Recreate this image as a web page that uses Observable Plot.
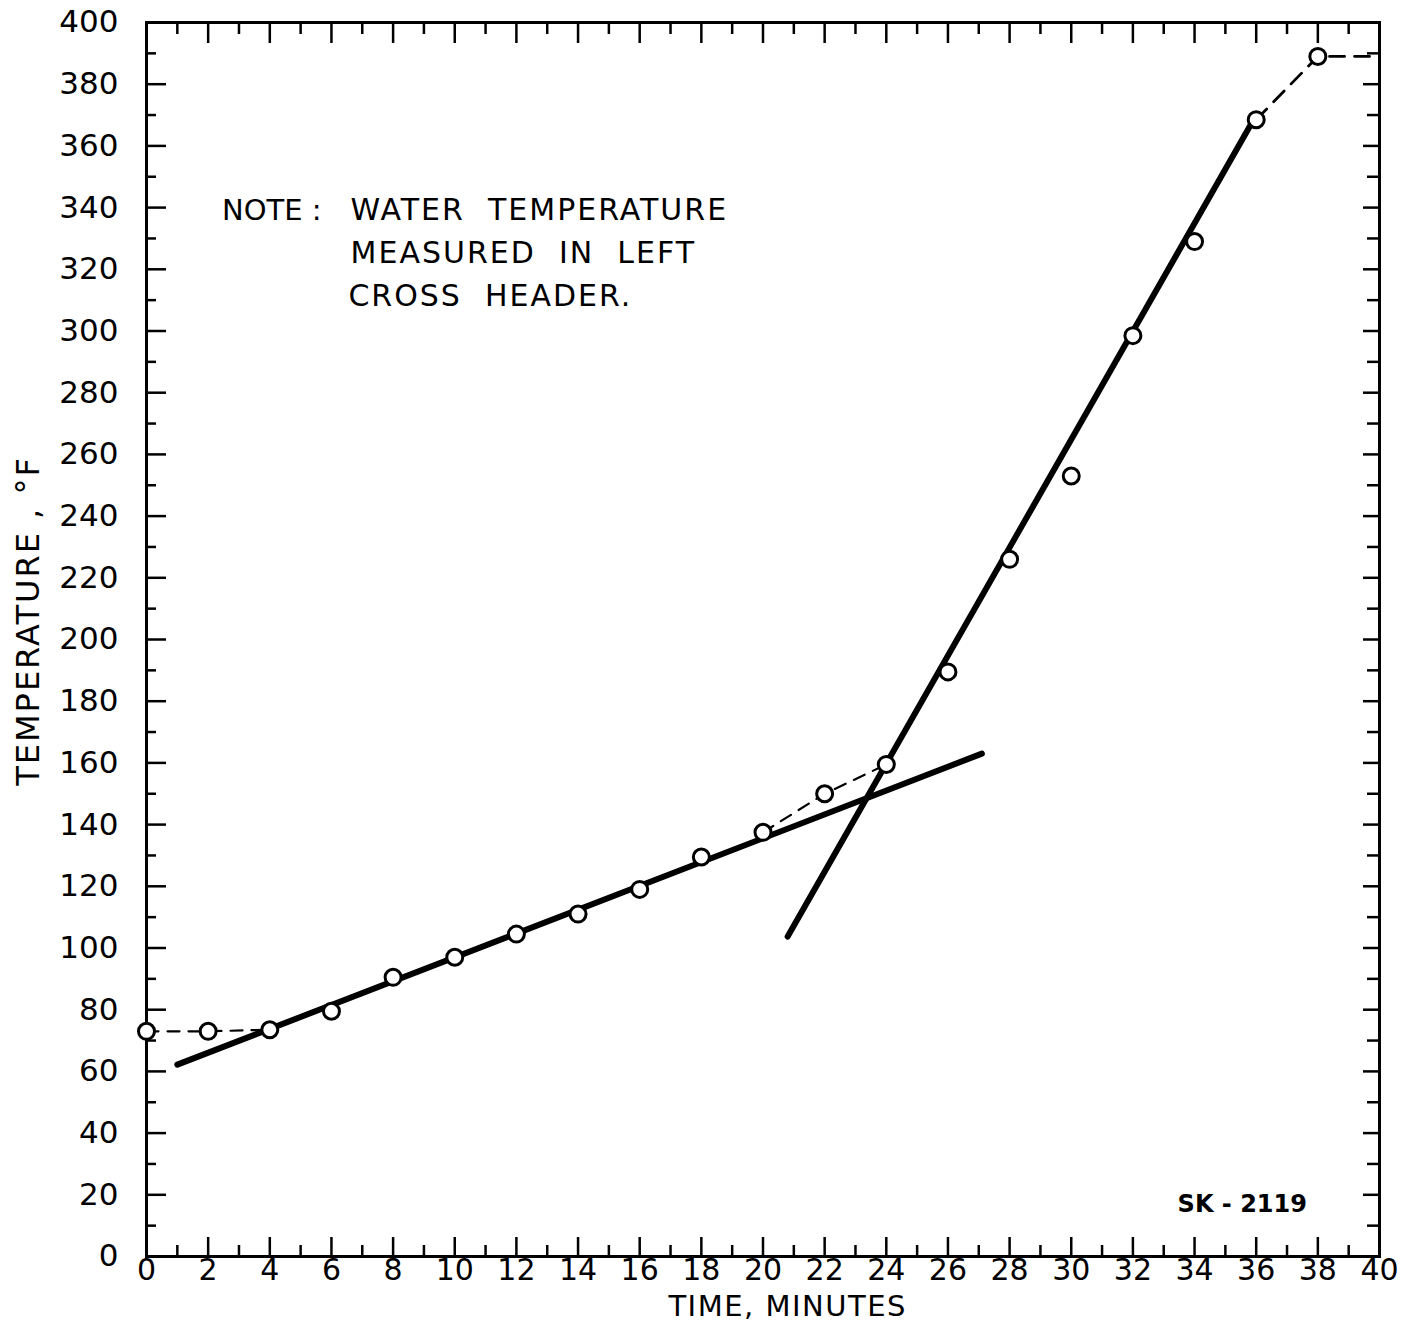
<!DOCTYPE html>
<html>
<head>
<meta charset="utf-8">
<script src="https://cdn.jsdelivr.net/npm/d3@7"></script>
<script src="https://cdn.jsdelivr.net/npm/@observablehq/plot@0.6"></script>
<style>
  html, body { margin: 0; padding: 0; background: #fff; }
  #chart { width: 1409px; height: 1322px; }
</style>
</head>
<body>
<div id="chart"></div>
<script>
// Measured points: time (minutes) vs water temperature (°F)
const time = [0, 2, 4, 6, 8, 10, 12, 14, 16, 18, 20, 22, 24, 26, 28, 30, 32, 34, 36, 38];
const temp = [73, 73, 73.5, 79.5, 90.5, 97, 104.5, 111, 119, 129.5, 137.5, 150, 159.5, 189.5, 226, 253, 298.5, 329, 368.5, 389];

// Faired straight lines (endpoints)
const lowLineX = [1, 27.1];
const lowLineY = [62.2, 163];
const highLineX = [20.8, 35.9];
const highLineY = [103.7, 368.2];

// Dashed connecting segments
const dashLeftX = [0, 2, 4];
const dashLeftY = [73, 73, 73.5];
const dashMidX = [20, 22, 24];
const dashMidY = [137.5, 150, 159.5];
const dashTopX = [36, 38, 40];
const dashTopY = [368.5, 389, 389];

// Axis ticks
const xMajor = d3.range(0, 41, 2);
const xMinor = d3.range(1, 40, 2);
const yMajor = d3.range(0, 401, 20);
const yMinor = d3.range(10, 400, 20);

// Texts
const noteLead = "NOTE :";
const noteLines = ["WATER  TEMPERATURE", "MEASURED  IN  LEFT", "CROSS  HEADER."];
const sheetId = "SK - 2119";
const xTitle = "TIME, MINUTES";
const yTitle = "TEMPERATURE , °F";

const pts = time.map((t, i) => ({t, v: temp[i]}));
const seg = (xs, ys) => xs.map((x, i) => ({x, y: ys[i]}));

const font = "DejaVu Sans, sans-serif";

const chart = Plot.plot({
  width: 1409,
  height: 1322,
  marginLeft: 146,
  marginRight: 30,
  marginTop: 22,
  marginBottom: 66,
  style: {fontFamily: font, fontSize: "30px", background: "#fff", color: "#000"},
  x: {domain: [0, 40]},
  y: {domain: [0, 400]},
  marks: [
    // inward ticks on all four sides
    Plot.axisX({anchor: "bottom", ticks: xMajor, tickSize: -19, strokeWidth: 2.5, text: null, label: null}),
    Plot.axisX({anchor: "bottom", ticks: xMinor, tickSize: -11, strokeWidth: 2.5, text: null, label: null}),
    Plot.axisX({anchor: "top", ticks: xMajor, tickSize: -20, strokeWidth: 2.5, text: null, label: null}),
    Plot.axisX({anchor: "top", ticks: xMinor, tickSize: -11, strokeWidth: 2.5, text: null, label: null}),
    Plot.axisY({anchor: "left", ticks: yMajor, tickSize: -20, strokeWidth: 2.5, text: null, label: null}),
    Plot.axisY({anchor: "left", ticks: yMinor, tickSize: -10, strokeWidth: 2.5, text: null, label: null}),
    Plot.axisY({anchor: "right", ticks: yMajor, tickSize: -17, strokeWidth: 2.5, text: null, label: null}),
    Plot.axisY({anchor: "right", ticks: yMinor, tickSize: -13, strokeWidth: 2.5, text: null, label: null}),
    // tick labels
    Plot.axisX({anchor: "bottom", ticks: xMajor, tickSize: 0, tickPadding: 2, fontSize: 30, label: null}),
    Plot.axisY({anchor: "left", ticks: yMajor, tickSize: 0, tickPadding: 28, fontSize: 31, label: null}),
    Plot.frame({stroke: "#000", strokeWidth: 3}),
    // faired lines
    Plot.line(seg(lowLineX, lowLineY), {x: "x", y: "y", stroke: "#000", strokeWidth: 6, strokeLinecap: "round"}),
    Plot.line(seg(highLineX, highLineY), {x: "x", y: "y", stroke: "#000", strokeWidth: 6, strokeLinecap: "round"}),
    // dashed connectors
    Plot.line(seg(dashLeftX, dashLeftY), {x: "x", y: "y", stroke: "#000", strokeWidth: 2.2, strokeDasharray: "12,9"}),
    Plot.line(seg(dashMidX, dashMidY), {x: "x", y: "y", stroke: "#000", strokeWidth: 2.2, strokeDasharray: "12,9"}),
    Plot.line(seg(dashTopX, dashTopY), {x: "x", y: "y", stroke: "#000", strokeWidth: 2.8, strokeDasharray: "15,10"}),
    // measured points
    Plot.dot(pts, {x: "t", y: "v", r: 8, fill: "#fff", stroke: "#000", strokeWidth: 3}),
    // annotations
    Plot.text([noteLead], {x: 2.45, y: 339, text: d => d, textAnchor: "start", fontSize: 29, fontFamily: font}),
    Plot.text([noteLines[0]], {x: 6.62, y: 339, text: d => d, textAnchor: "start", fontSize: 30, fontFamily: font}),
    Plot.text([noteLines[1]], {x: 6.62, y: 325.1, text: d => d, textAnchor: "start", fontSize: 30, fontFamily: font}),
    Plot.text([noteLines[2]], {x: 6.55, y: 311.2, text: d => d, textAnchor: "start", fontSize: 30, fontFamily: font}),
    Plot.text([sheetId], {x: 33.45, y: 16.9, text: d => d, textAnchor: "start", fontSize: 24, fontWeight: "bold", fontFamily: font}),
    // axis titles
    Plot.text([xTitle], {x: 20.8, y: 0, dy: 50, text: d => d, fontSize: 29, fontFamily: font}),
    Plot.text([yTitle], {x: 0, y: 206, dx: -118, rotate: -90, text: d => d, fontSize: 32, fontFamily: font})
  ]
});

// widen the lettering of the hand-lettered annotations
d3.select(chart).selectAll("text").each(function() {
  const t = this.textContent;
  if (noteLines.includes(t)) this.style.letterSpacing = "2px";
  else if (t === yTitle) this.style.letterSpacing = "2px";
  else if (t === xTitle) this.style.letterSpacing = "1.5px";
});

document.getElementById("chart").appendChild(chart);
</script>
</body>
</html>
